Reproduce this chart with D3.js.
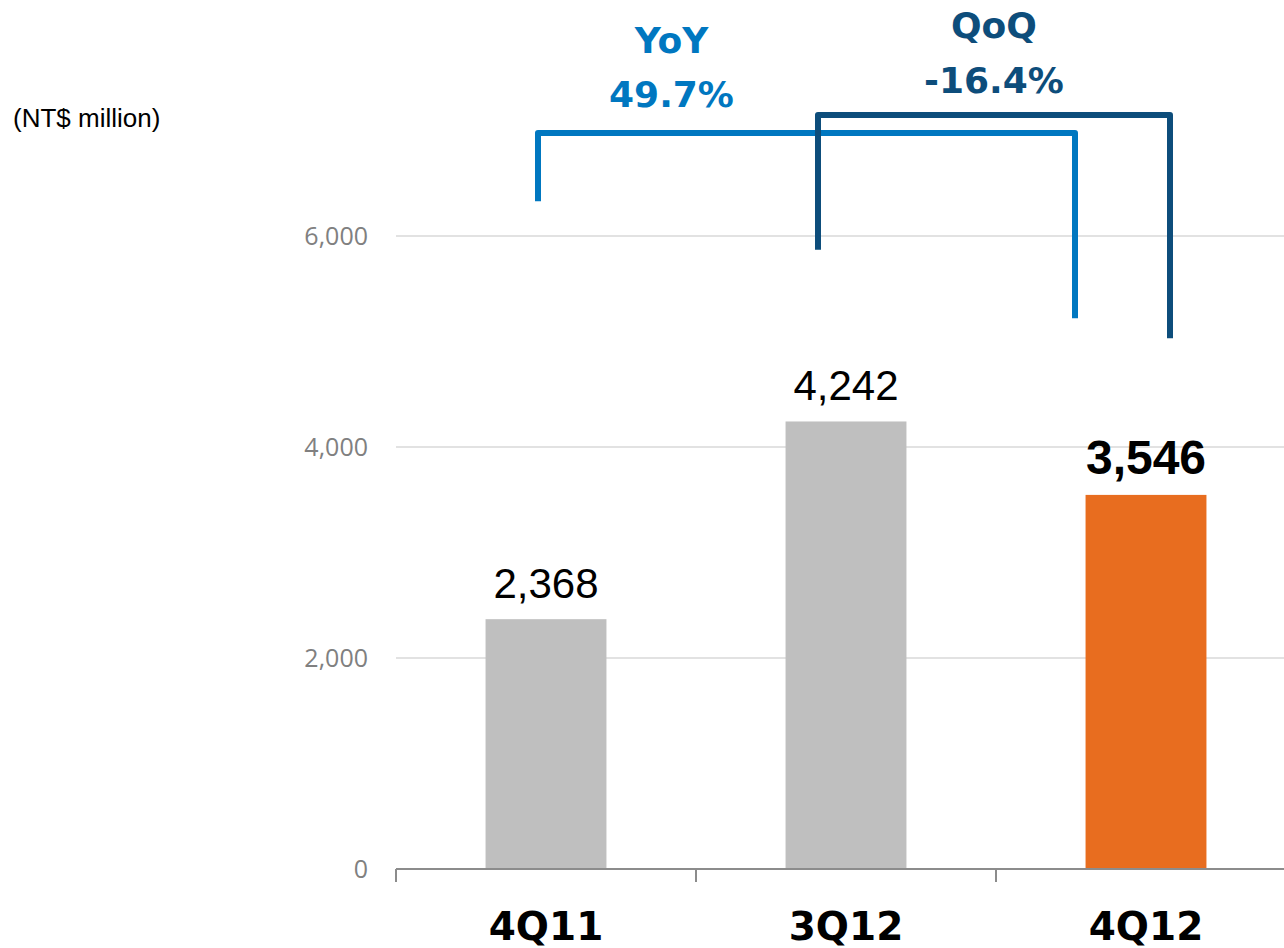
<!DOCTYPE html>
<html>
<head>
<meta charset="utf-8">
<script src="https://cdn.jsdelivr.net/npm/d3@7"></script>
<style>
  body { margin: 0; background: #fff; }
</style>
</head>
<body>
<svg class="rev"></svg>
<script>
// Data
var quarters = ["4Q11", "3Q12", "4Q12"];
var revenue = [2368, 4242, 3546];
var yTicks = [0, 2000, 4000, 6000];
var unitLabel = "(NT$ million)";
var changeNames = ["YoY", "QoQ"];
var changeValues = ["49.7%", "-16.4%"];
var changeFrom = ["4Q11", "3Q12"];
var changeTo = ["4Q12", "4Q12"];

// Total dimensions
var w = 1284,
    h = 948;

var svg = d3.select(".rev")
    .attr("width", w)
    .attr("height", h);

var margin = { top: 25, right: -12, bottom: 79, left: 396 },
    width = w - margin.left - margin.right,
    height = h - margin.top - margin.bottom,
    g = svg.append("g").attr("transform", "translate(" + margin.left + "," + margin.top + ")");

var xScale = d3.scaleBand()
    .domain(quarters)
    .range([0, width])
    .paddingInner(0.597)
    .paddingOuter(0.2985);

var yScale = d3.scaleLinear()
    .domain([0, 8000])
    .range([height, 0]);

var fmt = d3.format(",");

// Gridlines
g.selectAll(".grid")
    .data(yTicks.filter(function(d) { return d > 0; }))
    .enter().append("line")
    .attr("class", "grid")
    .attr("x1", 0)
    .attr("x2", width)
    .attr("y1", function(d) { return yScale(d); })
    .attr("y2", function(d) { return yScale(d); })
    .attr("stroke", "#d9d9d9")
    .attr("stroke-width", 1.3);

// y tick labels
g.selectAll(".ylab")
    .data(yTicks)
    .enter().append("text")
    .attr("class", "ylab")
    .attr("x", -28)
    .attr("y", function(d) { return yScale(d); })
    .attr("dy", "0.36em")
    .attr("text-anchor", "end")
    .attr("font-family", "'Open Sans', sans-serif")
    .attr("font-size", "25px")
    .attr("fill", "#808080")
    .text(function(d) { return fmt(d); });

// Bars
var bars = quarters.map(function(q, i) { return { q: q, v: revenue[i], last: i === quarters.length - 1 }; });

g.selectAll(".bar")
    .data(bars)
    .enter().append("rect")
    .attr("class", "bar")
    .attr("x", function(d) { return xScale(d.q); })
    .attr("width", xScale.bandwidth())
    .attr("y", function(d) { return yScale(d.v); })
    .attr("height", function(d) { return height - yScale(d.v); })
    .attr("fill", function(d) { return d.last ? "#e86d1f" : "#bfbfbf"; });

// Value labels
g.selectAll(".vlab")
    .data(bars)
    .enter().append("text")
    .attr("class", "vlab")
    .attr("x", function(d) { return xScale(d.q) + xScale.bandwidth() / 2; })
    .attr("y", function(d) { return yScale(d.v) - 21; })
    .attr("text-anchor", "middle")
    .attr("font-family", "'Liberation Sans', Arial, sans-serif")
    .attr("font-size", function(d) { return d.last ? "48px" : "42px"; })
    .attr("font-weight", function(d) { return d.last ? "bold" : "normal"; })
    .attr("fill", "#000")
    .text(function(d) { return fmt(d.v); });

// x axis
var axis = g.append("g")
    .attr("class", "x axis")
    .attr("transform", "translate(0," + height + ")");

axis.append("line")
    .attr("x1", 0)
    .attr("x2", width)
    .attr("stroke", "#8c8c8c")
    .attr("stroke-width", 2);

axis.selectAll(".tick")
    .data(quarters)
    .enter().append("line")
    .attr("class", "tick")
    .attr("x1", function(d) { return xScale(d) - xScale.step() * 0.2985; })
    .attr("x2", function(d) { return xScale(d) - xScale.step() * 0.2985; })
    .attr("y1", 0)
    .attr("y2", 13)
    .attr("stroke", "#8c8c8c")
    .attr("stroke-width", 2);

axis.selectAll(".xlab")
    .data(quarters)
    .enter().append("text")
    .attr("class", "xlab")
    .attr("x", function(d) { return xScale(d) + xScale.bandwidth() / 2; })
    .attr("y", 71)
    .attr("text-anchor", "middle")
    .attr("font-family", "'DejaVu Sans', Verdana, sans-serif")
    .attr("font-weight", "bold")
    .attr("font-size", "39px")
    .attr("fill", "#000")
    .text(function(d) { return d; });

// Unit label
svg.append("text")
    .attr("x", 13)
    .attr("y", 127)
    .attr("font-family", "'Liberation Sans', Arial, sans-serif")
    .attr("font-size", "26px")
    .attr("fill", "#000")
    .text(unitLabel);

// Change brackets (YoY / QoQ)
var bracketColors = ["#0077c0", "#0d4d7b"];
var bracketTop = [6976, 7147];       // level of the horizontal bar, in NT$ million
var bracketFoot = [[6330, 5220], [5870, 5030]];
var bracketShift = [[-8, -71], [-28, 24]];
var labelGap = [[80, 26], [77, 22]];

var cx = function(q) { return xScale(q) + xScale.bandwidth() / 2; };

changeNames.forEach(function(name, i) {
    var x1 = cx(changeFrom[i]) + bracketShift[i][0],
        x2 = cx(changeTo[i]) + bracketShift[i][1],
        yt = yScale(bracketTop[i]);

    g.append("path")
        .attr("d", d3.line()([
            [x1, yScale(bracketFoot[i][0])],
            [x1, yt],
            [x2, yt],
            [x2, yScale(bracketFoot[i][1])]
        ]))
        .attr("fill", "none")
        .attr("stroke", bracketColors[i])
        .attr("stroke-width", 6)
        .attr("stroke-linejoin", "round");

    var mid = (x1 + x2) / 2 + (i === 0 ? -135 : 0);
    g.append("text")
        .attr("x", mid)
        .attr("y", yt - labelGap[i][0])
        .attr("text-anchor", "middle")
        .attr("font-family", "'DejaVu Sans', Verdana, sans-serif")
        .attr("font-weight", "bold")
        .attr("font-size", "36px")
        .attr("fill", bracketColors[i])
        .text(name);
    g.append("text")
        .attr("x", mid)
        .attr("y", yt - labelGap[i][1])
        .attr("text-anchor", "middle")
        .attr("font-family", "'DejaVu Sans', Verdana, sans-serif")
        .attr("font-weight", "bold")
        .attr("font-size", "36px")
        .attr("fill", bracketColors[i])
        .text(changeValues[i]);
});
</script>
</body>
</html>
